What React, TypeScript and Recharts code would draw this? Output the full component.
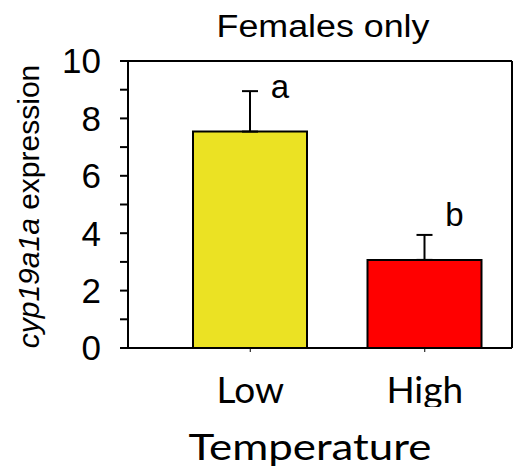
import React from 'react';
import { BarChart, Bar, XAxis, YAxis, ErrorBar, LabelList, Cell, Label, CartesianGrid } from 'recharts';

const categories = ['Low', 'High'];
const expression = [7.54, 3.07];
const errors = [1.41, 0.87];
const letters = ['a', 'b'];
const barColors = ['#EBE223', '#FF0000'];
const yTicks = [0, 1, 2, 3, 4, 5, 6, 7, 8, 9, 10];
const yLabelTicks = [0, 2, 4, 6, 8, 10];
const title = 'Females only';
const xTitle = 'Temperature';

const data = categories.map((c, i) => ({
  cat: c,
  value: expression[i],
  err: [0, errors[i]],
  letter: letters[i],
}));

const ARIAL = "Arial, 'Liberation Sans', sans-serif";
const CAL = "Lato, 'Open Sans', sans-serif";

const YTick = (props: any) => {
  const { x, y, payload } = props;
  if (!yLabelTicks.includes(payload.value)) return <g />;
  return (
    <text x={x} y={y} dy="0.355em" textAnchor="end" fontFamily={ARIAL} fontSize={35} fill="#000">
      {payload.value}
    </text>
  );
};

const XTick = (props: any) => {
  const { x, y, payload, index } = props;
  const id = `xclip-${index}`;
  return (
    <g>
      <defs>
        <clipPath id={id}>
          <rect x={x - 100} y={y} width={200} height={53} />
        </clipPath>
      </defs>
      <text x={x} y={y + 49} textAnchor="middle" fontFamily={CAL} fontSize={37} fill="#000" clipPath={`url(#${id})`}>
        {payload.value}
      </text>
    </g>
  );
};

const LetterLabel = (props: any) => {
  const { x, y, width, value } = props;
  return (
    <text x={x + width / 2 + 30} y={y - 34} textAnchor="middle" fontFamily={ARIAL} fontSize={33} fill="#000">
      {value}
    </text>
  );
};

export default function App() {
  return (
    <div style={{ position: 'absolute', left: 0, top: 0, background: '#fff' }}>
      <BarChart width={519} height={472} data={data} margin={{ top: 61, right: 7, left: 0, bottom: 0 }}>
        <CartesianGrid
          stroke="#000"
          strokeWidth={2}
          horizontalCoordinatesGenerator={(p: any) => [p.offset.top]}
          verticalCoordinatesGenerator={(p: any) => [p.offset.left + p.offset.width]}
        />
        <XAxis
          dataKey="cat"
          height={124}
          padding={{ left: 35, right: 0 }}
          axisLine={{ stroke: '#000', strokeWidth: 2 }}
          tickLine={{ stroke: '#000', strokeWidth: 1 }}
          tickSize={4}
          tick={<XTick />}
          interval={0}
          label={
            <Label
              content={(p: any) => {
                const vb = p.viewBox;
                return (
                  <g>
                    <text
                      x={vb.x + vb.width / 2 - 10}
                      y={vb.y + 112}
                      textAnchor="middle"
                      fontFamily={CAL}
                      fontSize={36}
                      fill="#000"
                      textLength={243}
                      lengthAdjust="spacingAndGlyphs"
                    >
                      {xTitle}
                    </text>
                    <text
                      x={vb.x + vb.width / 2 + 3}
                      y={37}
                      textAnchor="middle"
                      fontFamily={ARIAL}
                      fontSize={31}
                      fill="#000"
                      textLength={213}
                      lengthAdjust="spacingAndGlyphs"
                    >
                      {title}
                    </text>
                  </g>
                );
              }}
            />
          }
        />
        <YAxis
          width={128}
          domain={[0, 10]}
          ticks={yTicks}
          interval={0}
          tickSize={8}
          tickMargin={19}
          axisLine={{ stroke: '#000', strokeWidth: 2 }}
          tickLine={{ stroke: '#000', strokeWidth: 2 }}
          tick={<YTick />}
          label={
            <Label
              content={(p: any) => {
                const vb = p.viewBox;
                const cx = 39;
                const cy = vb.y + vb.height / 2 + 2;
                return (
                  <text
                    x={cx}
                    y={cy}
                    transform={`rotate(-90 ${cx} ${cy})`}
                    textAnchor="middle"
                    fontFamily={ARIAL}
                    fontSize={30}
                    fill="#000"
                  >
                    <tspan fontStyle="italic">cyp19a1a</tspan>
                    <tspan> expression</tspan>
                  </text>
                );
              }}
            />
          }
        />
        <Bar dataKey="value" barSize={114} stroke="#000" strokeWidth={2} isAnimationActive={false}>
          {data.map((d, i) => (
            <Cell key={d.cat} fill={barColors[i]} />
          ))}
          <ErrorBar dataKey="err" direction="y" width={8} stroke="#000" strokeWidth={2} />
          <LabelList dataKey="letter" content={<LetterLabel />} />
        </Bar>
      </BarChart>
    </div>
  );
}
